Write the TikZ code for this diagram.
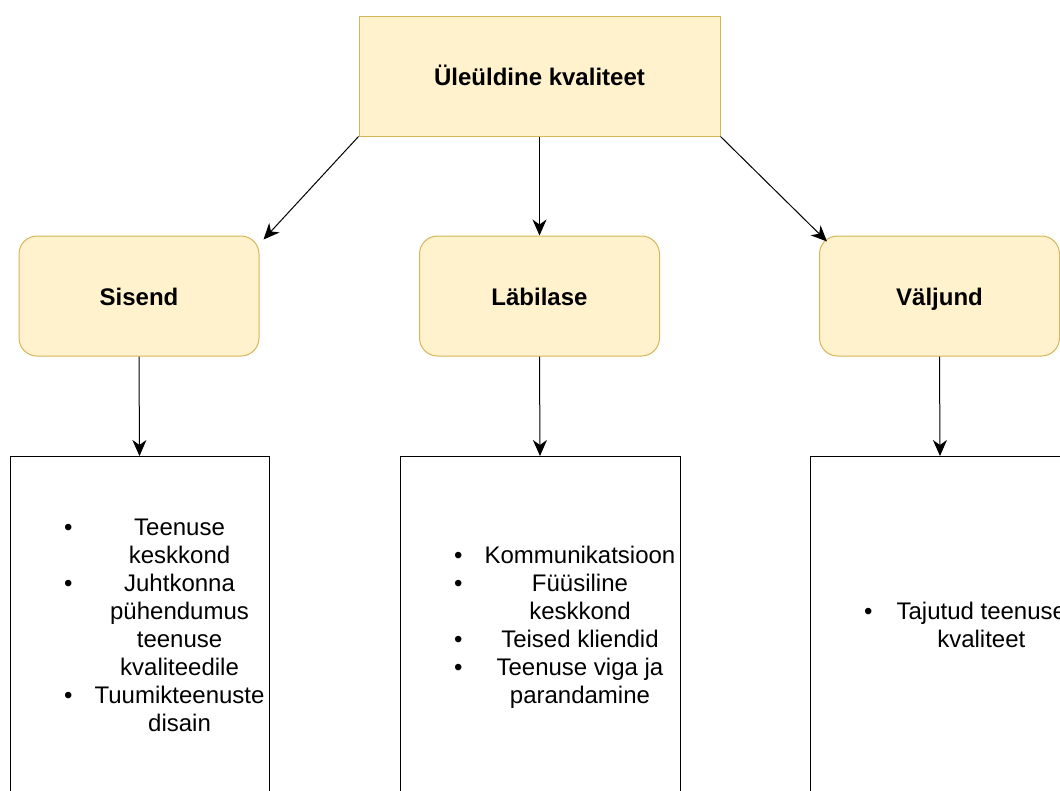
\documentclass[tikz,border=0pt]{standalone}
\usepackage{fontspec}
\setmainfont{Liberation Sans}
\usepackage{array}
\usetikzlibrary{arrows.meta,positioning}
\definecolor{noteFill}{HTML}{FFF2CC}
\definecolor{noteLine}{HTML}{D6B656}
\newcommand{\diagfont}{\fontsize{24}{28}\selectfont}
\tikzset{%
  topbox/.style={draw=noteLine,fill=noteFill,line width=1pt,minimum width=361pt,minimum height=120pt,text height=20pt,text depth=2pt,font=\diagfont\bfseries},
  stage/.style={draw=noteLine,fill=noteFill,line width=1pt,rounded corners=18pt,minimum width=240pt,minimum height=120pt,text height=20pt,text depth=2pt,font=\diagfont\bfseries},
  itembox/.style={draw,line width=1pt,minimum height=343pt,anchor=north},
  itemlist/.style={inner sep=0pt,anchor=west,font=\diagfont},
  arrow/.style={-{Stealth[length=16pt,width=14pt,inset=5pt]}, line width=1pt}%
}

\begin{document}
\begin{tikzpicture}[
    x=1pt, y=-1pt
]
\useasboundingbox (0,0) rectangle (1060,790);
\clip (0,0) rectangle (1060,790);

% Top and middle row
\node[topbox] (quality) at (539.5,76) {Üleüldine kvaliteet};
\node[stage] (input) at (139,296) {Sisend};
\node[stage] (process) at (539.5,296) {Läbilase};
\node[stage] (output) at (939.5,296) {Väljund};

\draw[arrow] (quality.south west) -- ([shift={(4pt,-4pt)}]input.north east);
\draw[arrow] (quality) -- (process);
\draw[arrow] (quality.south east) -- ([shift={(8pt,-6pt)}]output.north west);

% Item boxes
\node[itembox, minimum width=259pt] (inputItems) at (139.5,456) {};
\node[itembox, minimum width=280pt] (processItems) at (540,456) {};
\node[itembox, minimum width=260pt] (outputItems) at (940,456) {};

\draw[arrow] (input.south) -- (inputItems.north);
\draw[arrow] (process.south) -- (processItems.north);
\draw[arrow] (output.south) -- (outputItems.north);

% Bullet lists
\node[itemlist] (inputList) at (64,627.5) {%
  \begin{tabular}{@{}l@{\hspace{22pt}}c@{}}
    \textbullet & Teenuse\\
                & keskkond\\
    \textbullet & Juhtkonna\\
                & pühendumus\\
                & teenuse\\
                & kvaliteedile\\
    \textbullet & Tuumikteenuste\\
                & disain
  \end{tabular}};
\node[itemlist] (processList) at (454,627.5) {%
  \begin{tabular}{@{}l@{\hspace{22pt}}c@{}}
    \textbullet & Kommunikatsioon\\
    \textbullet & Füüsiline\\
                & keskkond\\
    \textbullet & Teised kliendid\\
    \textbullet & Teenuse viga ja\\
                & parandamine
  \end{tabular}};
\node[itemlist] (outputList) at (864,627.5) {%
  \begin{tabular}{@{}l@{\hspace{24pt}}c@{}}
    \textbullet & Tajutud teenuse\\
                & kvaliteet
  \end{tabular}};

\end{tikzpicture}
\end{document}
